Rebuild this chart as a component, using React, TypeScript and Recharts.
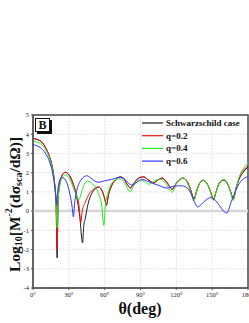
import React from "react";
import {
  LineChart,
  Line,
  XAxis,
  YAxis,
  CartesianGrid,
  ReferenceLine,
  ReferenceArea,
} from "recharts";

const xTicks = [0, 30, 60, 90, 120, 150, 180];
const yTicks = [-4, -3, -2, -1, 0, 1, 2, 3, 4, 5];

const thetaSchw = [0, 4, 8, 11, 14, 16, 18, 19.3, 20.2, 21, 22.5, 24.5, 27, 30, 33, 36, 39, 41.5, 42.5, 43.7, 46, 49, 52, 55, 57.5, 59.8, 61.5, 63.2, 66, 70, 73, 76, 79, 81.5, 84, 88, 92.5, 97, 101, 104.5, 108, 112, 116.6, 120, 125.6, 129, 132, 134.8, 137, 140, 142.5, 146, 149, 151, 153, 156, 160, 163, 165.5, 167.7, 170, 173, 176, 180];
const logSchw = [3.78, 3.72, 3.55, 3.25, 2.8, 2.35, 1.5, 0.4, -2.43, 0.6, 1.45, 1.88, 2.02, 1.9, 1.55, 0.9, -0.2, -1.65, -0.75, -0.4, 0.35, 0.9, 1.15, 1.25, 1.1, 0.7, 0.32, 0.85, 1.35, 1.68, 1.78, 1.68, 1.38, 1.2, 1.4, 1.7, 1.78, 1.6, 1.47, 1.62, 1.72, 1.5, 1.15, 1.45, 1.72, 1.55, 1.1, 0.65, 1.05, 1.5, 1.6, 1.4, 0.95, 0.6, 0.95, 1.45, 1.62, 1.4, 1.0, 0.65, 1.2, 1.72, 2.02, 2.3];

const thetaQ02 = [0, 4, 8, 11, 14, 16, 18, 19.3, 20.2, 21, 22.5, 24.5, 27, 30, 33, 36, 38.5, 40, 41.2, 43.7, 47, 51, 54.5, 57.5, 59.8, 61.5, 63.2, 66, 70, 73, 76, 79, 81.5, 84, 88, 92.5, 97, 101, 104.5, 108, 112, 116.6, 120, 125.6, 129, 132, 134.8, 137, 140, 142.5, 146, 149, 151, 153, 156, 160, 163, 165.5, 167.7, 170, 173, 176, 180];
const logQ02 = [3.77, 3.71, 3.54, 3.24, 2.8, 2.35, 1.5, 0.45, -2.05, 0.6, 1.45, 1.88, 2.02, 1.88, 1.5, 0.95, 0.3, -0.6, 0.0, 0.45, 0.9, 1.15, 1.26, 1.1, 0.7, 0.3, 0.85, 1.35, 1.68, 1.78, 1.68, 1.38, 1.2, 1.4, 1.7, 1.78, 1.6, 1.47, 1.62, 1.72, 1.5, 1.13, 1.45, 1.72, 1.55, 1.1, 0.63, 1.05, 1.5, 1.6, 1.4, 0.95, 0.58, 0.95, 1.45, 1.63, 1.4, 1.0, 0.63, 1.2, 1.78, 2.1, 2.37];

const thetaQ04 = [0, 4, 8, 11, 14, 16, 18, 19.3, 20.2, 21, 22.5, 24.5, 27, 30, 33, 36, 38.4, 40.5, 43, 45.5, 48, 51.5, 55, 57.5, 59.3, 60.5, 63, 66, 71, 75, 78.5, 81.5, 84, 88, 91, 94, 97, 101, 106, 111, 116.6, 120, 125.6, 129, 132, 134.8, 137, 140, 142.5, 146, 149, 151, 153, 156, 160, 163, 165.5, 167.7, 170, 173, 176, 180];
const logQ04 = [3.64, 3.58, 3.42, 3.15, 2.7, 2.25, 1.4, 0.4, -0.87, 0.55, 1.35, 1.75, 1.88, 1.75, 1.35, 0.85, 0.6, 0.95, 1.4, 1.55, 1.5, 1.3, 0.9, 0.3, -0.75, 0.2, 1.0, 1.45, 1.68, 1.6, 1.25, 1.0, 1.3, 1.58, 1.6, 1.5, 1.4, 1.55, 1.67, 1.45, 0.98, 1.42, 1.72, 1.5, 1.0, 0.55, 1.0, 1.5, 1.62, 1.4, 0.9, 0.55, 0.95, 1.45, 1.65, 1.4, 0.95, 0.55, 1.2, 1.85, 2.2, 2.5];

const thetaQ06 = [0, 4, 8, 11, 14, 16, 17.5, 18.8, 19.7, 20.6, 22, 24, 26, 28.5, 31, 32.8, 33.8, 35, 37, 40, 43, 45, 48, 52, 55, 60, 66, 72, 76, 80, 83, 87, 91, 95, 100, 106, 112, 118, 124, 128, 132, 135, 138, 141, 145, 149, 152, 156, 159.5, 162.3, 164, 166, 168, 171, 174, 177, 180];
const logQ06 = [3.46, 3.38, 3.2, 2.95, 2.55, 2.1, 1.6, 0.95, 0.34, 1.0, 1.55, 1.75, 1.7, 1.45, 0.85, 0.2, -0.3, 0.5, 1.15, 1.6, 1.8, 1.84, 1.75, 1.55, 1.5, 1.58, 1.65, 1.75, 1.7, 1.45, 1.35, 1.5, 1.65, 1.58, 1.45, 1.32, 1.2, 1.3, 1.32, 1.25, 0.95, 0.5, 0.22, 0.35, 0.6, 0.7, 0.6, 0.3, 0.0, -0.1, 0.1, 0.5, 0.8, 1.25, 1.55, 1.72, 1.78];

const zip = (xs: number[], ys: number[]) => xs.map((x, i) => ({ x, y: ys[i] }));

const series = [
  { name: "Schwarzschild case", color: "#1a1a1a", data: zip(thetaSchw, logSchw) },
  { name: "q=0.2", color: "#ee1111", data: zip(thetaQ02, logQ02) },
  { name: "q=0.4", color: "#22ee22", data: zip(thetaQ04, logQ04) },
  { name: "q=0.6", color: "#3030ff", data: zip(thetaQ06, logQ06) },
];

const serif = "'Liberation Serif', 'Times New Roman', serif";

function YTitle(props: any) {
  const vb = props.viewBox || { x: 0, y: 115, height: 173 };
  const cx = 14;
  const cy = vb.y + vb.height / 2 + 3;
  return (
    <text
      x={cx}
      y={cy}
      transform={`rotate(-90 ${cx} ${cy})`}
      textAnchor="middle"
      dominantBaseline="central"
      fontFamily={serif}
      fontWeight="bold"
      fontSize={15.5}
      fill="#111"
    >
      Log
      <tspan fontSize={10} dy={4}>10</tspan>
      <tspan dy={-4}>[M</tspan>
      <tspan fontSize={10} dy={-6}>-2</tspan>
      <tspan dy={6}>(dσ</tspan>
      <tspan fontSize={10} dy={4}>sca</tspan>
      <tspan dy={-4}>/dΩ)]</tspan>
    </text>
  );
}

function LegendBox() {
  return (
    <svg width={110} height={52} style={{ display: "block" }}>
      {series.map((s, i) => (
        <g key={s.name}>
          <line x1={2} x2={23} y1={6 + i * 12.7} y2={6 + i * 12.7} stroke={s.color} strokeWidth={1.2} />
          <text
            x={26}
            y={6 + i * 12.7}
            dominantBaseline="central"
            fontFamily={serif}
            fontWeight="bold"
            fontSize={9}
            fill="#111"
          >
            {s.name}
          </text>
        </g>
      ))}
    </svg>
  );
}

export default function App() {
  return (
    <div style={{ position: "absolute", left: 0, top: 0, width: 249, height: 323, overflow: "hidden", background: "#fff" }}>
      <LineChart width={261} height={323} margin={{ top: 115, right: 13, bottom: 15, left: 0 }}>
        <CartesianGrid stroke="#cfcfcf" strokeDasharray="1.5 1.5" strokeWidth={0.7} />
        <XAxis
          dataKey="x"
          type="number"
          domain={[0, 180]}
          ticks={xTicks}
          tickFormatter={(v: number) => `${v}°`}
          allowDuplicatedCategory={false}
          height={20}
          tick={{ fontSize: 6.5, fontFamily: serif, fill: "#222" }}
          tickSize={2}
          stroke="#555"
          interval={0}
        />
        <YAxis
          type="number"
          domain={[-4, 5]}
          ticks={yTicks}
          width={33}
          tick={{ fontSize: 6.5, fontFamily: serif, fill: "#222" }}
          tickSize={2}
          stroke="#555"
          interval={0}
          label={<YTitle />}
        />
        <ReferenceLine y={0} stroke="#d6d6d6" strokeWidth={2.5} />
        <ReferenceArea x1={0} x2={180} y1={-4} y2={5} fill="none" stroke="#4a4a4a" strokeWidth={1.5} />
        {series.map((s) => (
          <Line
            key={s.name}
            data={s.data}
            dataKey="y"
            name={s.name}
            type="monotone"
            stroke={s.color}
            strokeWidth={1}
            dot={false}
            isAnimationActive={false}
          />
        ))}
      </LineChart>
      <div style={{ position: "absolute", left: 140, top: 117 }}>
        <LegendBox />
      </div>
      <div
        style={{
          position: "absolute",
          left: 35,
          top: 118,
          width: 13,
          height: 12,
          border: "1px solid #111",
          boxShadow: "2px 2px 0 #111",
          background: "#fff",
          fontFamily: serif,
          fontWeight: "bold",
          fontSize: 12,
          lineHeight: "12px",
          textAlign: "center",
          color: "#111",
        }}
      >
        B
      </div>
      <div
        style={{
          position: "absolute",
          left: 0,
          width: 280,
          top: 300,
          textAlign: "center",
          fontFamily: serif,
          fontWeight: "bold",
          fontSize: 16,
          color: "#111",
        }}
      >
        θ(deg)
      </div>
    </div>
  );
}
